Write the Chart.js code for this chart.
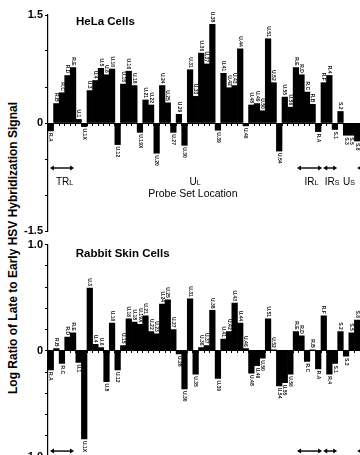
<!DOCTYPE html>
<html>
<head>
<meta charset="utf-8">
<title>Late to early HSV hybridization signal</title>
<script src="https://cdn.jsdelivr.net/npm/chart.js@4.4.1/dist/chart.umd.min.js"></script>
<style>
  html, body { margin: 0; padding: 0; background: #fff; }
  body { position: relative; width: 360px; height: 455px; overflow: hidden; font-family: Arial, "Liberation Sans", Helvetica, sans-serif; }
  canvas { position: absolute; left: 0; }
  #yTitle { position: absolute; left: 13px; top: 248px; transform: translate(-50%, -50%) rotate(-90deg); white-space: nowrap; font-weight: bold; font-size: 12px; color: #000; }
</style>
</head>
<body>
<div id="yTitle">Log Ratio of Late to Early HSV Hybridization Signal</div>
<canvas id="helaChart" width="360" height="240" style="top:0"></canvas>
<canvas id="rabbitChart" width="360" height="232" style="top:236px"></canvas>
<script>
// --- Data ---
const helaProbes = ['R.A', 'R.B', 'R.C', 'R.D', 'R.E', 'U.1', 'U.1X', 'U.3', 'U.4', 'U.5', 'U.6', 'U.10', 'U.12', 'U.15',
    'U.16', 'U.18', 'U.19X', 'U.21', 'U.22', 'U.20', 'U.24', 'U.25', 'U.27', 'U.29', 'U.30', 'U.31', 'U.33', 'U.36',
    'U.37', 'U.38', 'U.39', 'U.41', 'U.42', 'U.43', 'U.44', 'U.46', 'U.48', 'U.49', 'U.50', 'U.51', 'U.52', 'U.54',
    'U.55', 'U.56', 'R.E', 'R.D', 'R.C', 'R.B', 'R.A', 'R.F', 'R.4', 'S.1', 'S.2', 'S.3', 'S.5', 'S.6'];
const helaValues = [-0.11, 0.27, 0.42, 0.66, 0.77, 0.05, -0.05, 0.45, 0.59, 0.76, 0.67, 0.75, -0.30, 0.54,
    0.72, 0.52, -0.13, 0.32, 0.25, -0.42, 0.52, 0.28, -0.13, 0.12, -0.31, 0.74, 0.37, 0.97,
    0.82, 1.37, -0.10, 0.69, 0.49, 0.52, 1.03, -0.04, 0.25, 0.27, 0.17, 1.17, 0.56, -0.39,
    0.36, 0.22, 0.77, 0.67, 0.43, 0.26, -0.12, 0.56, 0.66, -0.09, 0.16, -0.17, -0.17, -0.25];

const rabbitProbes = ['R.A', 'R.B', 'R.C', 'R.D', 'R.E', 'U.1', 'U.1X', 'U.3', 'U.4', 'U.6', 'U.8', 'U.10', 'U.12', 'U.15',
    'U.16', 'U.18', 'U.19X', 'U.21', 'U.22', 'U.23', 'U.24', 'U.25', 'U.27', 'U.28', 'U.30', 'U.31', 'U.35', 'U.36',
    'U.37', 'U.38', 'U.39', 'U.41', 'U.42', 'U.43', 'U.44', 'U.46', 'U.48', 'U.49', 'U.50', 'U.51', 'U.52', 'U.54',
    'U.55', 'U.56', 'R.E', 'R.D', 'R.C', 'R.B', 'R.A', 'R.F', 'R.4', 'S.1', 'S.2', 'S.3', 'S.5', 'S.6'];
const rabbitValues = [-0.18, 0.02, -0.12, 0.13, 0.17, -0.11, -0.83, 0.59, 0.06, 0.03, -0.29, 0.26, -0.18, 0.05,
    0.30, 0.27, 0.25, 0.33, 0.18, 0.16, 0.44, 0.48, 0.20, -0.03, -0.36, 0.49, -0.22, 0.03,
    0.05, 0.38, -0.26, 0.11, 0.18, 0.45, 0.26, 0.02, -0.21, -0.14, -0.07, 0.30, 0.01, -0.33,
    -0.30, -0.22, 0.18, 0.14, -0.10, 0.01, -0.17, 0.33, -0.22, -0.12, 0.18, -0.05, 0.17, 0.29];

const helaTickLabels = [1.5, 0, -1.5];
const rabbitTickLabels = [1, 0, -1];

// genome regions, in probe-index units
const regionNames = ['TR', 'U', 'IR', 'IR', 'U'];
const regionSubs = ['L', 'L', 'L', 'S', 'S'];
const regionFrom = [-0.15, null, 44.2, 48.9, 55.0];
const regionTo = [4.17, null, 48.7, 51.4, 70];
const regionLabelAt = [2.46, 25.9, 46.8, 50.5, 53.5];
const xAxisTitle = 'Probe Set Location';

const FONT = 'Arial, "Liberation Sans", Helvetica, sans-serif';

// --- Plugins ---

// little rotated probe names at the end of each bar
const probeLabelPlugin = {
    id: 'probeLabels',
    afterDatasetsDraw(chart, args, opts) {
        const ctx = chart.ctx;
        const meta = chart.getDatasetMeta(0);
        const values = chart.data.datasets[0].data;
        ctx.save();
        ctx.font = 'bold 5px ' + FONT;
        ctx.fillStyle = '#111';
        ctx.textBaseline = 'middle';
        meta.data.forEach((bar, i) => {
            const up = values[i] >= 0;
            ctx.save();
            ctx.translate(bar.x, up ? bar.y - 2 : bar.y + 2);
            ctx.rotate(Math.PI / 2);
            ctx.textAlign = up ? 'right' : 'left';
            ctx.fillText(opts.labels[i], 0, 0);
            ctx.restore();
        });
        ctx.restore();
    }
};

function drawArrow(ctx, x1, x2, y) {
    const head = 4, half = 2.5;
    ctx.beginPath();
    ctx.moveTo(x1 + head - 1, y);
    ctx.lineTo(x2 - head + 1, y);
    ctx.stroke();
    [[x1, 1], [x2, -1]].forEach(([px, dir]) => {
        ctx.beginPath();
        ctx.moveTo(px, y);
        ctx.lineTo(px + dir * head, y - half);
        ctx.lineTo(px + dir * head, y + half);
        ctx.closePath();
        ctx.fill();
    });
}

// region arrows, region names, panel title
const regionPlugin = {
    id: 'regionMarks',
    afterDraw(chart, args, opts) {
        const { ctx, scales: { x, y } } = chart;
        ctx.save();
        ctx.fillStyle = '#000';
        ctx.strokeStyle = '#000';
        ctx.lineWidth = 1.4;

        const ay = y.getPixelForValue(opts.arrowAt);
        regionNames.forEach((name, i) => {
            if (regionFrom[i] !== null) {
                drawArrow(ctx, x.getPixelForValue(regionFrom[i]), x.getPixelForValue(regionTo[i]), ay);
            }
        });

        if (opts.showLabels) {
            const ly = y.getPixelForValue(opts.labelAt);
            ctx.textBaseline = 'alphabetic';
            ctx.textAlign = 'left';
            regionNames.forEach((name, i) => {
                ctx.font = '10px ' + FONT;
                const w1 = ctx.measureText(name).width;
                ctx.font = '7px ' + FONT;
                const w2 = ctx.measureText(regionSubs[i]).width;
                const left = x.getPixelForValue(regionLabelAt[i]) - (w1 + w2) / 2;
                ctx.font = '10px ' + FONT;
                ctx.fillText(name, left, ly);
                ctx.font = '7px ' + FONT;
                ctx.fillText(regionSubs[i], left + w1, ly + 0.5);
            });
            ctx.font = '10.5px ' + FONT;
            ctx.textAlign = 'center';
            ctx.fillText(xAxisTitle, x.getPixelForValue(opts.axisTitleX), y.getPixelForValue(opts.axisTitleY));
        }

        ctx.font = 'bold 11.5px ' + FONT;
        ctx.textAlign = 'center';
        ctx.textBaseline = 'middle';
        ctx.fillText(opts.title, x.getPixelForValue(opts.titleX), y.getPixelForValue(opts.titleY));
        ctx.restore();
    }
};

// --- Chart builder ---

function buildPanel(canvasId, probes, values, range, step, tickLabels, padding, marks) {
    const ctx = document.getElementById(canvasId).getContext('2d');
    return new Chart(ctx, {
        type: 'bar',
        data: {
            labels: probes,
            datasets: [{
                data: values,
                backgroundColor: '#000',
                borderWidth: 0,
                barPercentage: 1.0,
                categoryPercentage: 1.0
            }]
        },
        options: {
            responsive: false,
            animation: false,
            layout: { padding: padding },
            plugins: {
                legend: { display: false },
                tooltip: { enabled: false },
                probeLabels: { labels: probes },
                regionMarks: marks
            },
            scales: {
                x: {
                    position: { y: 0 },
                    ticks: { display: false },
                    grid: { drawOnChartArea: false, drawTicks: true, tickLength: 2, color: '#000', lineWidth: 1 },
                    border: { display: true, color: '#000', width: 1 }
                },
                y: {
                    min: -range,
                    max: range,
                    afterFit: (scale) => { scale.width = 48; },
                    ticks: {
                        stepSize: step,
                        autoSkip: false,
                        padding: 2,
                        color: '#000',
                        font: { family: FONT, size: 11, weight: 'bold' },
                        callback: (v) => {
                            const hit = tickLabels.find(t => Math.abs(t - v) < 1e-6);
                            if (hit === undefined) return '';
                            return hit === 0 ? '0' : hit.toFixed(1);
                        }
                    },
                    grid: { drawOnChartArea: false, drawTicks: true, tickLength: 3, color: '#000' },
                    border: { display: true, color: '#000', width: 1.2 }
                }
            }
        },
        plugins: [probeLabelPlugin, regionPlugin]
    });
}

buildPanel('helaChart', helaProbes, helaValues, 1.5, 0.5, helaTickLabels,
    { top: 15, bottom: 9, left: 0, right: 0 },
    { title: 'HeLa Cells', titleX: 9.8, titleY: 1.40, arrowAt: -0.625, showLabels: true,
      labelAt: -0.855, axisTitleX: 25.5, axisTitleY: -1.03 });

buildPanel('rabbitChart', rabbitProbes, rabbitValues, 1.0, 0.2, rabbitTickLabels,
    { top: 7, bottom: 11, left: 0, right: 0 },
    { title: 'Rabbit Skin Cells', titleX: 12.9, titleY: 0.916, arrowAt: -0.944, showLabels: false });
</script>
</body>
</html>
